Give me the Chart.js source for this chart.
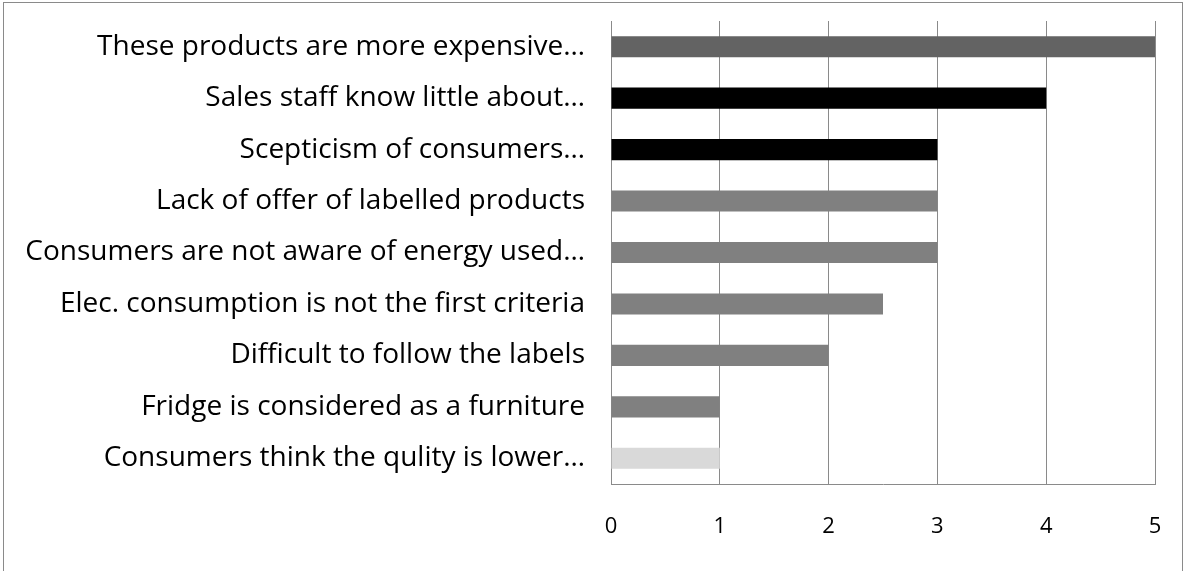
<!DOCTYPE html>
<html>
<head>
<meta charset="utf-8">
<script src="https://cdn.jsdelivr.net/npm/chart.js@4/dist/chart.umd.min.js"></script>
<style>
  html, body { margin: 0; padding: 0; background: #fff; overflow: hidden; }
  #frame {
    position: absolute; left: 3px; top: 2px;
    width: 1180px; height: 620px;
    border: 1px solid #8a8a8a; box-sizing: border-box;
  }
  #wrap { position: absolute; left: 0; top: 0; width: 1186px; height: 571px; }
</style>
</head>
<body>
<div id="frame"></div>
<div id="wrap"><canvas id="barrierChart"></canvas></div>
<script>
'use strict';

// ── Data ───────────────────────────────────────────────────────────────────────
const barriers = [
  'These products are more expensive…',
  'Sales staff know little about…',
  'Scepticism of consumers…',
  'Lack of offer of labelled products',
  'Consumers are not aware of energy used…',
  'Elec. consumption is not the first criteria',
  'Difficult to follow the labels',
  'Fridge is considered as a furniture',
  'Consumers think the qulity is lower…',
];
const scores = [5, 4, 3, 3, 3, 2.5, 2, 1, 1];
const barColors = ['#636363', '#000000', '#000000', '#808080', '#808080',
                   '#808080', '#808080', '#808080', '#d9d9d9'];
const xTicks = [0, 1, 2, 3, 4, 5];

const FONT = { family: 'Open Sans', size: 28 };
const GRID = '#8a8a8a';

// ── Chart ──────────────────────────────────────────────────────────────────────
new Chart(document.getElementById('barrierChart'), {
  type: 'bar',
  data: {
    labels: barriers,
    datasets: [{
      data: scores,
      backgroundColor: barColors,
      borderWidth: 0,
      barPercentage: 0.41,
      categoryPercentage: 1,
    }],
  },
  options: {
    indexAxis: 'y',
    responsive: true,
    maintainAspectRatio: false,
    animation: false,
    layout: { padding: { top: 21, right: 31, bottom: 0, left: 0 } },
    plugins: { legend: { display: false }, tooltip: { enabled: false } },
    scales: {
      x: {
        min: xTicks[0],
        max: xTicks[xTicks.length - 1],
        afterBuildTicks: s => { s.ticks = xTicks.map(v => ({ value: v })); },
        // fixed axis band so the plot keeps the same bottom edge
        afterFit: s => { s.height = 87; s.paddingLeft = 0; s.paddingRight = 0; },
        grid: { color: GRID, lineWidth: 1, drawTicks: false },
        border: { color: GRID, width: 1 },
        ticks: { color: '#000', font: { family: 'Open Sans', size: 22 }, padding: 30 },
      },
      y: {
        afterFit: s => { s.width = 611; s.paddingTop = 0; s.paddingBottom = 0; },
        grid: { display: false, drawTicks: false },
        border: { color: GRID, width: 1 },
        ticks: { color: '#000', font: FONT, padding: 26 },
      },
    },
  },
});
</script>
</body>
</html>
